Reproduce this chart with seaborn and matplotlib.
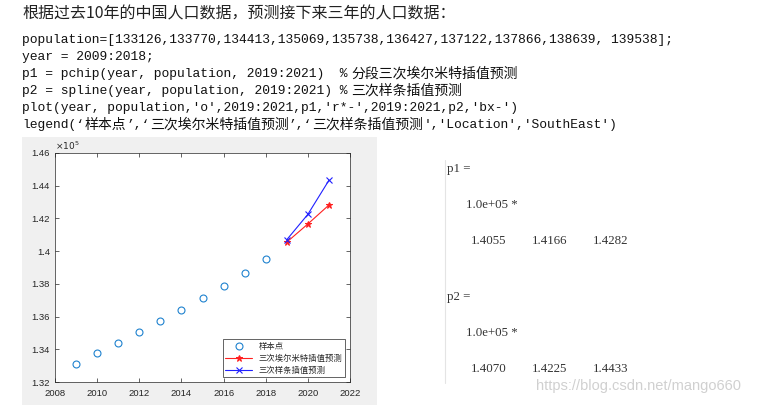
import matplotlib
matplotlib.use("Agg")
import matplotlib.pyplot as plt
from matplotlib.patches import Rectangle
from matplotlib.lines import Line2D
from matplotlib.ticker import FuncFormatter
import seaborn as sns

# ---- data ----
year = [2009, 2010, 2011, 2012, 2013, 2014, 2015, 2016, 2017, 2018]
population = [133126, 133770, 134413, 135069, 135738, 136427, 137122, 137866, 138639, 139538]
pred_year = [2019, 2020, 2021]
p1 = [140550, 141660, 142820]
p2 = [140700, 142250, 144330]
legend_labels = ["样本点", "三次埃尔米特插值预测", "三次样条插值预测"]
x_ticks = [2008, 2010, 2012, 2014, 2016, 2018, 2020, 2022]
y_ticks = [132000, 134000, 136000, 138000, 140000, 142000, 144000, 146000]

title_text = "根据过去10年的中国人口数据，预测接下来三年的人口数据："
code_lines = [
    "population=[133126,133770,134413,135069,135738,136427,137122,137866,138639, 139538];",
    "year = 2009:2018;",
    "p1 = pchip(year, population, 2019:2021)  %分段三次埃尔米特插值预测",
    "p2 = spline(year, population, 2019:2021) %三次样条插值预测",
    "plot(year, population,'o',2019:2021,p1,'r*-',2019:2021,p2,'bx-')",
    "legend(‘样本点’,‘三次埃尔米特插值预测’,‘三次样条插值预测','Location','SouthEast')",
]
p1_str = ["1.4055", "1.4166", "1.4282"]
p2_str = ["1.4070", "1.4225", "1.4433"]

sns.set_theme(style="ticks")
plt.rcParams["font.family"] = ["Liberation Sans", "Noto Sans CJK SC"]

W, H = 765, 405
fig = plt.figure(figsize=(W / 100, H / 100), dpi=100)
fig.patch.set_facecolor("white")

def fx(px):
    return px / W

def fy(py):
    return 1 - py / H

# gray MATLAB figure panel
fig.add_artist(Rectangle((fx(22), 0), fx(377) - fx(22), fy(137), transform=fig.transFigure,
                         facecolor="#F0F0F0", edgecolor="none", zorder=-5))

# title
fig.text(fx(22), fy(14), title_text, family=["Noto Sans CJK SC", "DejaVu Sans"], fontsize=11.5,
         va="center", ha="left", color="#222222")

# code lines: monospace runs for ASCII, CJK font for Chinese runs
MONO_PT = 9.4
CJK_PT = 10.0
mono_w = MONO_PT * 100 / 72 * 0.6
cjk_w = CJK_PT * 100 / 72

def is_cjk(ch):
    return "\u4e00" <= ch <= "\u9fff"

def draw_code(line, x0, yc):
    runs = []
    for ch in line:
        c = is_cjk(ch)
        if runs and runs[-1][0] == c:
            runs[-1][1] += ch
        else:
            runs.append([c, ch])
    x = x0
    for c, s in runs:
        if c:
            fig.text(fx(x), fy(yc), s, family=["Noto Sans CJK SC"], fontsize=CJK_PT,
                     va="center", ha="left", color="#111111")
            x += len(s) * cjk_w
        else:
            fig.text(fx(x), fy(yc), s, family=["Liberation Mono", "DejaVu Sans Mono"], fontsize=MONO_PT,
                     va="center", ha="left", color="#111111")
            x += len(s) * mono_w

for i, line in enumerate(code_lines):
    draw_code(line, 22, 40 + 17 * i)

# axes
ax = fig.add_axes([fx(55), fy(382), fx(350) - fx(55), fy(153) - fy(382)], zorder=2)
ax.set_facecolor("white")

sns.lineplot(x=year, y=population, ax=ax, marker="o", linestyle="none", markersize=5,
             markerfacecolor="none", markeredgecolor="#1F82CF", markeredgewidth=0.8,
             color="#1F82CF", label=legend_labels[0])
sns.lineplot(x=pred_year, y=p1, ax=ax, marker="*", color="#FF2020", linewidth=0.8,
             markersize=5, markeredgecolor="#FF2020", label=legend_labels[1])
sns.lineplot(x=pred_year, y=p2, ax=ax, marker="x", color="#2020FF", linewidth=0.8,
             markersize=4.5, markeredgecolor="#2020FF", markeredgewidth=0.8, label=legend_labels[2])

ax.set_xlim(2008, 2022)
ax.set_ylim(132000, 146000)
ax.set_xticks(x_ticks)
ax.set_yticks(y_ticks)
ax.yaxis.set_major_formatter(FuncFormatter(lambda v, p: f"{v / 1e5:g}"))
ax.tick_params(direction="in", length=3, width=0.5, top=True, right=True,
               labelsize=6.8, colors="#262626")
ax.tick_params(axis="x", pad=5)
ax.tick_params(axis="y", pad=3.5)
for s in ax.spines.values():
    s.set_visible(True)
    s.set_linewidth(0.5)
    s.set_color("#262626")
ax.text(0.0, 1.005, r"$\times10^5$", transform=ax.transAxes, fontsize=6.5, color="#262626",
        ha="left", va="bottom")

leg = ax.legend(loc="lower right", prop={"family": ["Noto Sans CJK SC"], "size": 6},
                frameon=True, fancybox=False, framealpha=1, edgecolor="#262626",
                handlelength=3.2, borderaxespad=0.6, labelspacing=0.35, borderpad=0.3)
leg.get_frame().set_linewidth(0.5)

# right-hand console output
fig.add_artist(Line2D([fx(445), fx(445)], [fy(160), fy(383)], color="#E4E4E4", lw=0.8))
serif = ["Liberation Serif", "DejaVu Serif"]
tc = "#333333"
fs = 9.3
fig.text(fx(447), fy(169), "p1 =", family=serif, fontsize=fs, va="center", ha="left", color=tc)
fig.text(fx(466), fy(205), "1.0e+05 *", family=serif, fontsize=fs, va="center", ha="left", color=tc)
for j, s in enumerate(p1_str):
    fig.text(fx(471 + 61 * j), fy(241), s, family=serif, fontsize=fs, va="center", ha="left", color=tc)
fig.text(fx(447), fy(297), "p2 =", family=serif, fontsize=fs, va="center", ha="left", color=tc)
fig.text(fx(466), fy(333), "1.0e+05 *", family=serif, fontsize=fs, va="center", ha="left", color=tc)
for j, s in enumerate(p2_str):
    fig.text(fx(471 + 61 * j), fy(369), s, family=serif, fontsize=fs, va="center", ha="left", color=tc)
fig.text(fx(536), fy(386), "https://blog.csdn.net/mango660", family=["Liberation Sans"], fontsize=10.5,
         va="center", ha="left", color="#D0D0D0")

fig.savefig("out.png", dpi=100)
